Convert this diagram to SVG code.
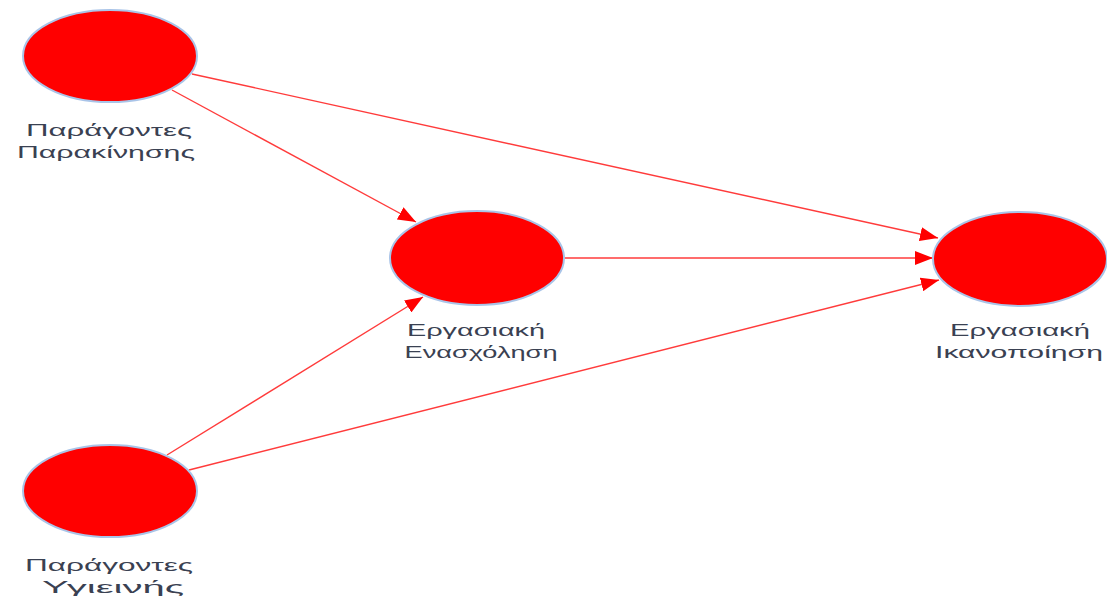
<svg xmlns="http://www.w3.org/2000/svg" width="1107" height="596" viewBox="0 0 1107 596">
<style>
.node{fill:#ff0000;stroke:#a9c4e8;stroke-width:2}
.lbl{font-family:"Liberation Sans",Arial,sans-serif;font-size:16px;fill:#3a4152;text-anchor:middle}
.edge{stroke:#ff3b3b;stroke-width:1.4;fill:none}
</style>
<defs>
<marker id="ah" markerUnits="userSpaceOnUse" markerWidth="20" markerHeight="14" refX="18" refY="7" orient="auto">
<path d="M0,0 L18,7 L0,14 Z" fill="#ff0000"/>
</marker>
</defs>
<rect width="1107" height="596" fill="#ffffff"/>
<g id="connectors">
<line class="edge" x1="192" y1="74" x2="938" y2="238" marker-end="url(#ah)"/>
<line class="edge" x1="172" y1="90" x2="416" y2="222" marker-end="url(#ah)"/>
<line class="edge" x1="563" y1="258" x2="933" y2="258" marker-end="url(#ah)"/>
<line class="edge" x1="167" y1="455" x2="423" y2="297" marker-end="url(#ah)"/>
<line class="edge" x1="189" y1="470" x2="939" y2="280" marker-end="url(#ah)"/>
</g>
<g id="n1">
<ellipse class="node" cx="110" cy="56" rx="87" ry="46"/>
<text class="lbl" x="109" y="136" textLength="166" lengthAdjust="spacingAndGlyphs">Παράγοντες</text>
<text class="lbl" x="106" y="158" textLength="178" lengthAdjust="spacingAndGlyphs">Παρακίνησης</text>
</g>
<g id="n2">
<ellipse class="node" cx="477" cy="258" rx="87" ry="47"/>
<text class="lbl" x="476" y="336" textLength="138" lengthAdjust="spacingAndGlyphs">Εργασιακή</text>
<text class="lbl" x="481" y="358" textLength="153" lengthAdjust="spacingAndGlyphs">Ενασχόληση</text>
</g>
<g id="n3">
<ellipse class="node" cx="1020" cy="259" rx="87" ry="47"/>
<text class="lbl" x="1020" y="336" textLength="140" lengthAdjust="spacingAndGlyphs">Εργασιακή</text>
<text class="lbl" x="1019" y="358" textLength="168" lengthAdjust="spacingAndGlyphs">Ικανοποίηση</text>
</g>
<g id="n4">
<ellipse class="node" cx="110" cy="491" rx="87" ry="46"/>
<text class="lbl" x="109" y="571" textLength="168" lengthAdjust="spacingAndGlyphs">Παράγοντες</text>
<text class="lbl" x="113" y="593" textLength="142" lengthAdjust="spacingAndGlyphs">Υγιεινής</text>
</g>
</svg>
